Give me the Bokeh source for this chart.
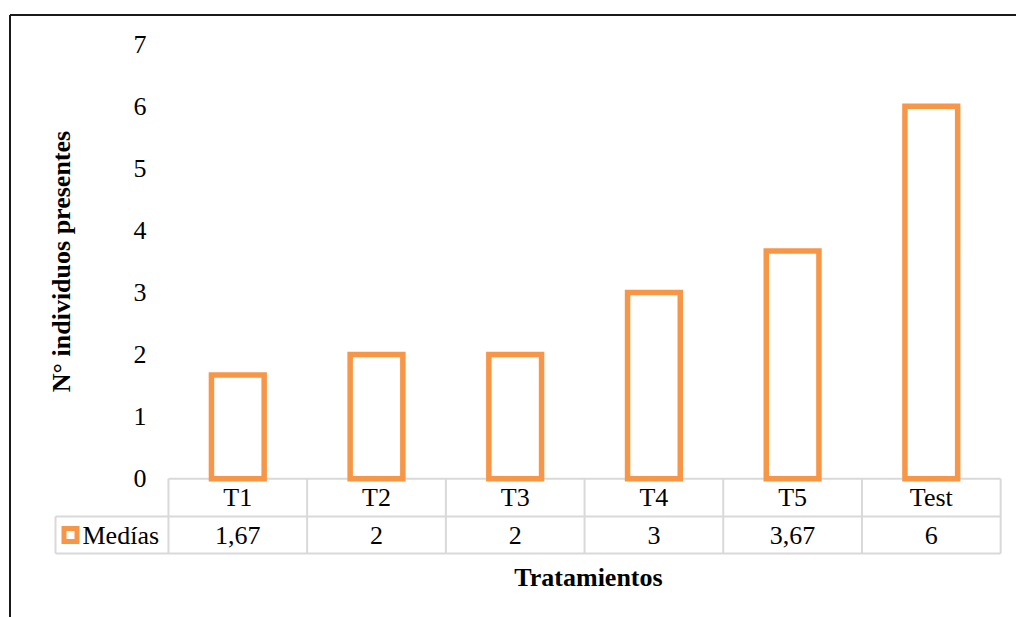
import math
from bokeh.plotting import figure
from bokeh.models import Range1d, ColumnDataSource
from bokeh.core.properties import value
from bokeh.embed import file_html
from bokeh.resources import INLINE

# ---- data ----
categories = ["T1", "T2", "T3", "T4", "T5", "Test"]
medias = [1.67, 2, 2, 3, 3.67, 6]
series_name = "Medías"
y_ticks = [0, 1, 2, 3, 4, 5, 6, 7]
y_title = "N° individuos presentes"
x_title = "Tratamientos"

ORANGE = "#F79646"
GRID = "#D9D9D9"
FONT = "Liberation Serif"

W, H = 1016, 617
# scale: 138.7 px per category, 62.1 px per unit; category 0 at px 237.3, value 0 at px 478.3
PX_X, PX_Y = 138.7, 62.1
x0_px, y0_px = 237.3, 478.3
x_range = Range1d(-x0_px / PX_X, (W - x0_px) / PX_X)
y_range = Range1d(-(H - y0_px) / PX_Y, y0_px / PX_Y)

p = figure(width=W, height=H, x_range=x_range, y_range=y_range,
           x_axis_type=None, y_axis_type=None, toolbar_location=None,
           output_backend="svg", min_border=0, outline_line_color=None)
p.grid.visible = False
p.background_fill_color = "white"
p.border_fill_color = "white"

n = len(categories)
idx = list(range(n))

# outer chart frame (top and left edges)
fx = (9.5 - x0_px) / PX_X
fy = (y0_px - 14.5) / PX_Y
p.segment(x0=[fx, fx], y0=[fy, fy], x1=[x_range.end + 1, fx], y1=[fy, y_range.start - 1],
          line_color="#1a1a1a", line_width=2)

# data table grid
row1 = -(37.7) / PX_Y
row2 = -(74.7) / PX_Y
left_cell = (55 - x0_px) / PX_X
hx0 = [-0.5, left_cell, left_cell]
hx1 = [n - 0.5, n - 0.5, n - 0.5]
hy = [0, row1, row2]
p.segment(x0=hx0, y0=hy, x1=hx1, y1=hy, line_color=GRID, line_width=2)
vx = [i - 0.5 for i in range(n + 1)] + [left_cell]
vy0 = [0] * (n + 1) + [row1]
p.segment(x0=vx, y0=vy0, x1=vx, y1=[row2] * (n + 2), line_color=GRID, line_width=2)

# bars
src = ColumnDataSource(dict(x=idx, top=medias))
p.vbar(x="x", top="top", bottom=0, width=0.38, source=src, fill_color="white",
       line_color=ORANGE, line_width=5.5, line_join="miter")

# y tick labels
p.text(x=[(146 - x0_px) / PX_X] * len(y_ticks), y=y_ticks, text=[str(t) for t in y_ticks],
       text_font=value(FONT), text_font_size="26px", text_color="black",
       text_align="right", text_baseline="middle")

# y title
p.text(x=[(61 - x0_px) / PX_X], y=[(y0_px - 261) / PX_Y], text=[y_title], angle=math.pi / 2,
       text_font=value(FONT), text_font_size="26px", text_font_style="bold",
       text_align="center", text_baseline="middle", text_color="black")

# table header row (categories)
p.text(x=idx, y=[row1 / 2] * n, text=categories, text_font=value(FONT),
       text_font_size="26px", text_align="center", text_baseline="middle", text_color="black")

# table values row
vals = [f"{v:g}".replace(".", ",") for v in medias]
p.text(x=idx, y=[(row1 + row2) / 2] * n, text=vals, text_font=value(FONT),
       text_font_size="26px", text_align="center", text_baseline="middle", text_color="black")

# legend key + series name
p.scatter(x=[(70 - x0_px) / PX_X], y=[(row1 + row2) / 2], marker="square", size=13,
          fill_color="white", line_color=ORANGE, line_width=5, line_join="miter")
p.text(x=[(82 - x0_px) / PX_X], y=[(row1 + row2) / 2], text=[series_name], text_font=value(FONT),
       text_font_size="26px", text_align="left", text_baseline="middle", text_color="black")

# x title
p.text(x=[(588 - x0_px) / PX_X], y=[(y0_px - 577) / PX_Y], text=[x_title], text_font=value(FONT),
       text_font_size="26px", text_font_style="bold", text_align="center",
       text_baseline="middle", text_color="black")

open("out.html", "w").write(file_html(p, INLINE))
